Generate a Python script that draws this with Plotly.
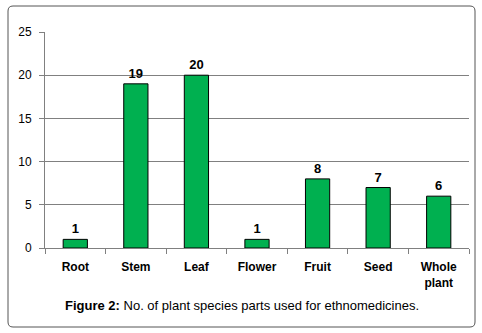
import plotly.graph_objects as go

categories = ["Root", "Stem", "Leaf", "Flower", "Fruit", "Seed", "Whole<br>plant"]
values = [1, 19, 20, 1, 8, 7, 6]
y_ticks = [0, 5, 10, 15, 20, 25]

W, H = 482, 333
L, R, T, B = 45, 13, 32, 85
pw, ph = W - L - R, H - T - B

def px(x):
    return (x - L) / pw

def py(y):
    return (H - B - y) / ph

fig = go.Figure()
fig.add_trace(go.Bar(
    x=categories, y=values, width=0.4,
    marker=dict(color="#00B050", line=dict(color="black", width=1)),
    text=[str(v) for v in values], textposition="outside",
    textfont=dict(family="Liberation Sans", size=13, color="black"),
    texttemplate="<b>%{text}</b>", cliponaxis=False,
))

# rounded outer border
x0, x1, y0, y1, r = 8, 475, 6, 327, 5
path = (f"M {px(x0+r)},{py(y0)} L {px(x1-r)},{py(y0)} Q {px(x1)},{py(y0)} {px(x1)},{py(y0+r)} "
        f"L {px(x1)},{py(y1-r)} Q {px(x1)},{py(y1)} {px(x1-r)},{py(y1)} "
        f"L {px(x0+r)},{py(y1)} Q {px(x0)},{py(y1)} {px(x0)},{py(y1-r)} "
        f"L {px(x0)},{py(y0+r)} Q {px(x0)},{py(y0)} {px(x0+r)},{py(y0)} Z")
fig.add_shape(type="path", path=path, xref="paper", yref="paper",
              line=dict(color="#555555", width=1))

fig.add_annotation(x=px(242), y=py(305), xref="paper", yref="paper",
                   xanchor="center", yanchor="middle",
                   text="<b>Figure 2:</b> No. of plant species parts used for ethnomedicines.",
                   showarrow=False, font=dict(family="Liberation Sans", size=13, color="black"))

fig.update_layout(
    width=W, height=H, margin=dict(l=L, r=R, t=T, b=B),
    paper_bgcolor="white", plot_bgcolor="white", showlegend=False,
    xaxis=dict(tickson="boundaries", ticks="outside", ticklen=5, tickcolor="#808080",
               showline=True, linecolor="#808080", showgrid=False,
               ticklabelstandoff=8,
               tickfont=dict(family="Liberation Sans", size=12, color="black"),
               tickprefix="<b>", ticksuffix="</b>"),
    yaxis=dict(range=[0, 25], tickvals=y_ticks, ticks="outside", ticklen=5, tickcolor="#808080",
               showline=True, linecolor="#808080", showgrid=True, gridcolor="#808080",
               zeroline=False, ticklabelstandoff=5,
               tickfont=dict(family="Liberation Sans", size=12, color="black")),
)
fig.write_html("out.html", config={"displayModeBar": False},
               post_script="document.body.style.margin='0';document.body.style.overflow='hidden';")
